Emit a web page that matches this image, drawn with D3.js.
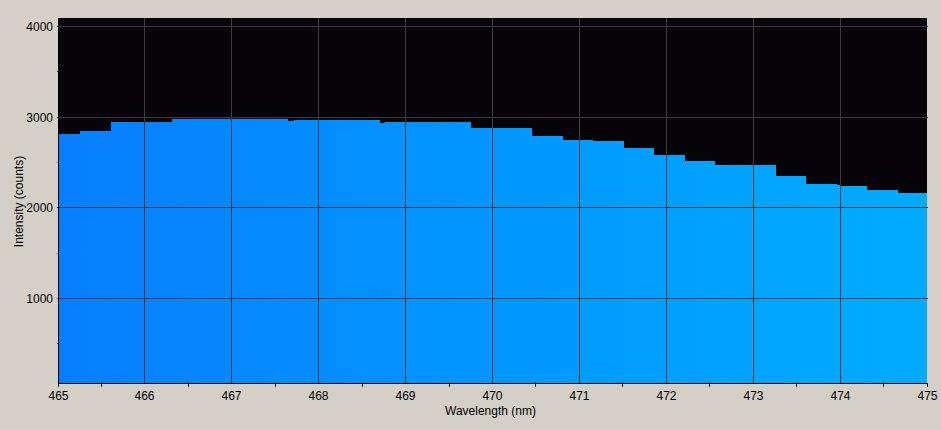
<!DOCTYPE html>
<html>
<head>
<meta charset="utf-8">
<script src="https://cdn.jsdelivr.net/npm/d3@7"></script>
<style>
  html, body { margin: 0; padding: 0; background: #d4d0c8; }
  svg { display: block; }
  text { font-family: "Liberation Sans", Arial, sans-serif; font-size: 12px; fill: #000; }
</style>
</head>
<body>
<div id="chart"></div>
<script>
// Step bin edges (nm) and intensity per bin (counts)
const binEdges = [465.00, 465.25, 465.61, 466.31, 467.65, 467.72, 468.71, 468.76, 469.75,
                  470.45, 470.81, 471.16, 471.51, 471.86, 472.22, 472.56, 473.26, 473.61,
                  473.96, 474.01, 474.31, 474.67, 475.00];
const binCounts = [2809, 2842, 2941, 2974, 2956, 2963, 2930, 2941, 2875,
                   2787, 2743, 2732, 2655, 2577, 2511, 2467, 2346, 2258,
                   2247, 2236, 2192, 2159];
const xTicks = [465, 466, 467, 468, 469, 470, 471, 472, 473, 474, 475];
const xMinorTicks = [465.5, 466.5, 467.5, 468.5, 469.5, 470.5, 471.5, 472.5, 473.5, 474.5];
const yTicks = [1000, 2000, 3000, 4000];
const yMinorTicks = [500, 1500, 2500, 3500];
const xDomain = [465, 475];
const yDomain = [62.5, 4088];
const xLabel = "Wavelength (nm)";
const yLabel = "Intensity (counts)";

const W = 941, H = 430;
const margin = {left: 58, right: 14, top: 18, bottom: 47};

const svg = d3.select("#chart").append("svg").attr("width", W).attr("height", H);
svg.append("rect").attr("width", W).attr("height", H).attr("fill", "#d4d0c8");

const x = d3.scaleLinear().domain(xDomain).range([margin.left, W - margin.right]);
const y = d3.scaleLinear().domain(yDomain).range([H - margin.bottom, margin.top]);

const defs = svg.append("defs");
const grad = defs.append("linearGradient").attr("id", "spec")
  .attr("gradientUnits", "userSpaceOnUse")
  .attr("x1", x(xDomain[0])).attr("x2", x(xDomain[1])).attr("y1", 0).attr("y2", 0);
grad.append("stop").attr("offset", "0%").attr("stop-color", "rgb(8,126,255)");
grad.append("stop").attr("offset", "50%").attr("stop-color", "rgb(2,150,255)");
grad.append("stop").attr("offset", "100%").attr("stop-color", "rgb(0,172,255)");

// plot background
svg.append("rect")
  .attr("x", x(xDomain[0])).attr("y", y(yDomain[1]))
  .attr("width", x(xDomain[1]) - x(xDomain[0]))
  .attr("height", y(yDomain[0]) - y(yDomain[1]))
  .attr("fill", "#060409");

// bars (steps)
const bins = binCounts.map((c, i) => ({x0: binEdges[i], x1: binEdges[i + 1], c}));
svg.append("g").selectAll("rect").data(bins).join("rect")
  .attr("x", d => Math.round(x(d.x0)))
  .attr("width", d => Math.round(x(d.x1)) - Math.round(x(d.x0)))
  .attr("y", d => Math.round(y(d.c)))
  .attr("height", d => y(yDomain[0]) - Math.round(y(d.c)))
  .attr("fill", "url(#spec)")
  .attr("shape-rendering", "crispEdges");

// grid
const grid = svg.append("g").attr("stroke", "#3a3a3c").attr("stroke-width", 1).attr("shape-rendering", "crispEdges");
grid.selectAll("line.v").data(xTicks.slice(1, -1)).join("line")
  .attr("x1", d => Math.floor(x(d)) + 0.5).attr("x2", d => Math.floor(x(d)) + 0.5)
  .attr("y1", y(yDomain[1])).attr("y2", y(yDomain[0]));
grid.selectAll("line.h").data(yTicks).join("line")
  .attr("y1", d => Math.round(y(d)) + 0.5).attr("y2", d => Math.round(y(d)) + 0.5)
  .attr("x1", x(xDomain[0])).attr("x2", x(xDomain[1]) + 1);

// axes lines
const ax = svg.append("g").attr("stroke", "#000").attr("shape-rendering", "crispEdges");
const yb = Math.round(y(yDomain[0])) + 0.5;
const xl = x(xDomain[0]) + 0.5;
ax.append("line").attr("x1", xl).attr("x2", xl).attr("y1", y(yDomain[1])).attr("y2", yb);
ax.append("line").attr("x1", xl).attr("x2", x(xDomain[1]) + 1).attr("y1", yb).attr("y2", yb);

// x ticks
ax.selectAll("line.xm").data(xMinorTicks).join("line")
  .attr("x1", d => Math.floor(x(d)) + 0.5).attr("x2", d => Math.floor(x(d)) + 0.5)
  .attr("y1", yb - 2).attr("y2", yb + 3);
ax.selectAll("line.xe").data([xDomain[0], xDomain[1]]).join("line")
  .attr("x1", d => Math.floor(x(d)) + 0.5).attr("x2", d => Math.floor(x(d)) + 0.5)
  .attr("y1", yb).attr("y2", yb + 3);
// y ticks
ax.selectAll("line.yt").data(yTicks.concat(yMinorTicks)).join("line")
  .attr("x1", xl - 2).attr("x2", xl)
  .attr("y1", d => Math.round(y(d)) + 0.5).attr("y2", d => Math.round(y(d)) + 0.5);

// tick labels
svg.append("g").selectAll("text").data(xTicks).join("text")
  .attr("x", d => Math.floor(x(d)) + 0.5).attr("y", yb + 16)
  .attr("text-anchor", "middle").text(d => d);
svg.append("g").selectAll("text").data(yTicks).join("text")
  .attr("x", 53).attr("y", d => Math.round(y(d)) + 4.5)
  .attr("text-anchor", "end").text(d => d);

// axis titles
svg.append("text").attr("x", (x(xDomain[0]) + x(xDomain[1])) / 2 - 2).attr("y", 415)
  .attr("text-anchor", "middle").text(xLabel);
svg.append("text")
  .attr("transform", `translate(22.5, ${(y(yDomain[0]) + y(yDomain[1])) / 2 + 1}) rotate(-90)`)
  .attr("text-anchor", "middle").text(yLabel);
</script>
</body>
</html>
